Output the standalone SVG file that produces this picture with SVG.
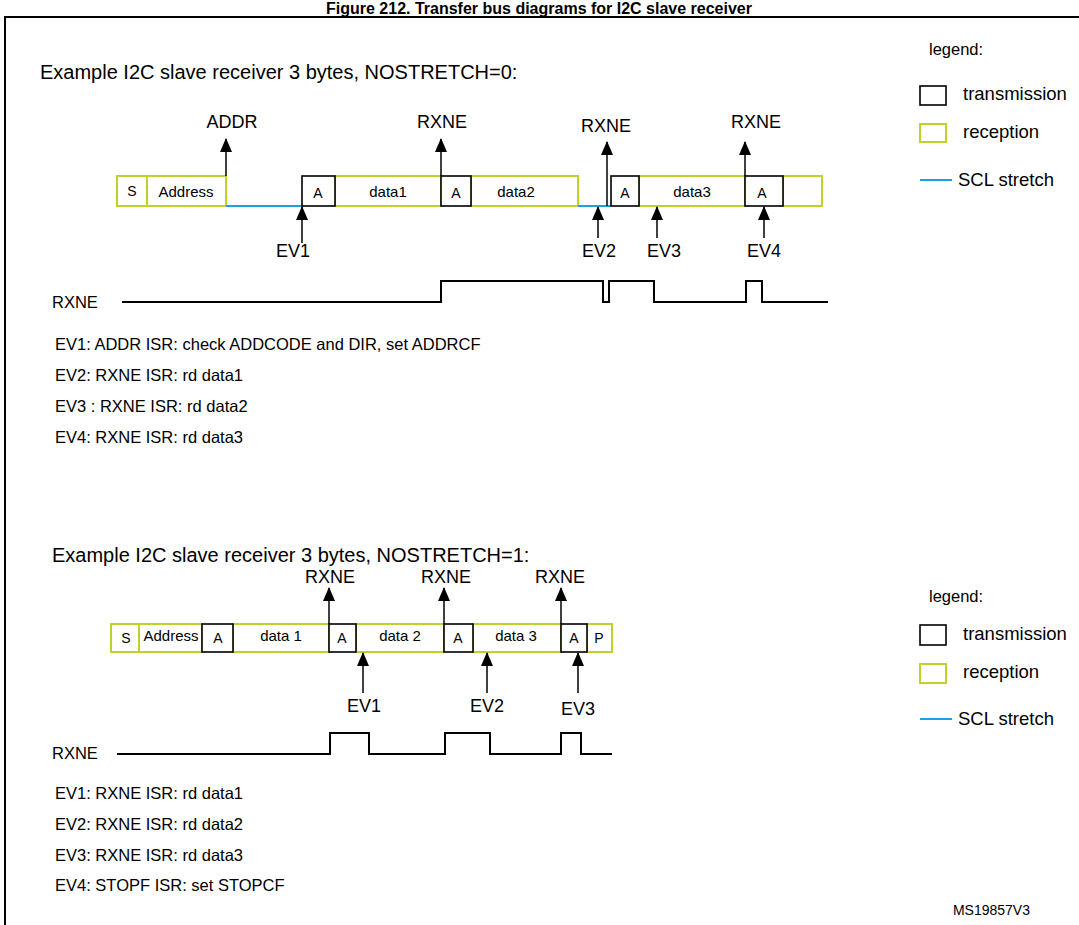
<svg xmlns="http://www.w3.org/2000/svg" width="1079" height="925" viewBox="0 0 1079 925">
<defs>
<marker id="ah" markerWidth="14" markerHeight="12" refX="13" refY="6" orient="auto" markerUnits="userSpaceOnUse" viewBox="0 0 14 12"><path d="M0,0 L14,6 L0,12 Z" fill="#000"/></marker>
<style>
text{font-family:"Liberation Sans",Arial,sans-serif;fill:#000}
.rx{fill:#fff;stroke:#bfd22a;stroke-width:2}
.tx{fill:#fff;stroke:#000;stroke-width:1.6}
.st{stroke:#1aa3e0;stroke-width:2;fill:none}
.ar{stroke:#000;stroke-width:1.5;fill:none}
.wv{stroke:#000;stroke-width:2;fill:none}
.s{font-size:14px}
.m{font-size:15px}
.e{font-size:16.5px}
.l{font-size:18px}
.g{font-size:18.5px}
.h{font-size:20px}
</style>
</defs>
<rect width="1079" height="925" fill="#fff"/>
<text x="539" y="14" text-anchor="middle" font-weight="bold" font-size="16">Figure 212. Transfer bus diagrams for I2C slave receiver</text>
<path d="M5,925 V17 H1079" fill="none" stroke="#000" stroke-width="2"/>

<g id="top">
<text class="h" x="40" y="79">Example I2C slave receiver 3 bytes, NOSTRETCH=0:</text>
<g id="legend1">
<text class="e" x="929" y="55">legend:</text>
<rect class="tx" x="920" y="86" width="26" height="19"/>
<text class="g" x="963" y="100">transmission</text>
<rect class="rx" x="920" y="124" width="26" height="18"/>
<text class="g" x="963" y="138">reception</text>
<line class="st" x1="920" y1="180" x2="952" y2="180"/>
<text class="g" x="958" y="186">SCL stretch</text>
</g>
<g id="frame1">
<rect class="rx" x="117" y="176" width="30" height="30"/><text class="s" x="132" y="196" text-anchor="middle">S</text>
<rect class="rx" x="147" y="176" width="79" height="30"/><text class="m" x="186" y="197" text-anchor="middle">Address</text>
<line class="st" x1="226" y1="206" x2="302" y2="206"/>
<rect class="rx" x="335" y="176" width="106" height="30"/><text class="m" x="388" y="197" text-anchor="middle">data1</text>
<rect class="rx" x="471" y="176" width="107" height="30"/><text class="m" x="516" y="197" text-anchor="middle">data2</text>
<line class="st" x1="578" y1="206" x2="611" y2="206"/>
<rect class="rx" x="639" y="176" width="106" height="30"/><text class="m" x="692" y="197" text-anchor="middle">data3</text>
<rect class="rx" x="783" y="176" width="39" height="30"/>
<rect class="tx" x="302" y="176" width="33" height="30"/><text class="s" x="318" y="198" text-anchor="middle">A</text>
<rect class="tx" x="441" y="176" width="30" height="30"/><text class="s" x="456" y="198" text-anchor="middle">A</text>
<rect class="tx" x="611" y="176" width="28" height="30"/><text class="s" x="625" y="198" text-anchor="middle">A</text>
<rect class="tx" x="745" y="176" width="38" height="30"/><text class="s" x="762" y="198" text-anchor="middle">A</text>
</g>
<g id="connectors1">
<line class="ar" x1="226" y1="176" x2="226" y2="139" marker-end="url(#ah)"/>
<line class="ar" x1="441" y1="176" x2="441" y2="139" marker-end="url(#ah)"/>
<line class="ar" x1="607" y1="206" x2="607" y2="142" marker-end="url(#ah)"/>
<line class="ar" x1="745" y1="176" x2="745" y2="142" marker-end="url(#ah)"/>
<line class="ar" x1="302" y1="243" x2="302" y2="207" marker-end="url(#ah)"/>
<line class="ar" x1="598" y1="238" x2="598" y2="207" marker-end="url(#ah)"/>
<line class="ar" x1="657" y1="238" x2="657" y2="207" marker-end="url(#ah)"/>
<line class="ar" x1="764" y1="238" x2="764" y2="207" marker-end="url(#ah)"/>
</g>
<text class="l" x="232" y="128" text-anchor="middle">ADDR</text>
<text class="l" x="442" y="128" text-anchor="middle">RXNE</text>
<text class="l" x="606" y="132" text-anchor="middle">RXNE</text>
<text class="l" x="756" y="128" text-anchor="middle">RXNE</text>
<text class="l" x="293" y="257" text-anchor="middle">EV1</text>
<text class="l" x="599" y="257" text-anchor="middle">EV2</text>
<text class="l" x="664" y="257" text-anchor="middle">EV3</text>
<text class="l" x="764" y="257" text-anchor="middle">EV4</text>
<text class="e" x="52" y="308">RXNE</text>
<path class="wv" d="M122,302 H441 V281 H603 V302 H609 V281 H654 V302 H746 V281 H762 V302 H828"/>
<text class="e" x="55" y="350">EV1: ADDR ISR: check ADDCODE and DIR, set ADDRCF</text>
<text class="e" x="55" y="381">EV2: RXNE ISR: rd data1</text>
<text class="e" x="55" y="412">EV3 : RXNE ISR: rd data2</text>
<text class="e" x="55" y="443">EV4: RXNE ISR: rd data3</text>
</g>

<g id="bottom">
<text class="h" x="52" y="562">Example I2C slave receiver 3 bytes, NOSTRETCH=1:</text>
<g id="legend2">
<text class="e" x="929" y="602">legend:</text>
<rect class="tx" x="920" y="625" width="26" height="20"/>
<text class="g" x="963" y="640">transmission</text>
<rect class="rx" x="920" y="664" width="26" height="19"/>
<text class="g" x="963" y="678">reception</text>
<line class="st" x1="920" y1="719" x2="952" y2="719"/>
<text class="g" x="958" y="725">SCL stretch</text>
</g>
<g id="frame2">
<rect class="rx" x="111" y="624" width="28" height="28"/><text class="s" x="126" y="643" text-anchor="middle">S</text>
<rect class="rx" x="139" y="624" width="63" height="28"/><text class="m" x="171" y="641" text-anchor="middle">Address</text>
<rect class="rx" x="233" y="624" width="96" height="28"/><text class="m" x="281" y="641" text-anchor="middle">data 1</text>
<rect class="rx" x="356" y="624" width="88" height="28"/><text class="m" x="400" y="641" text-anchor="middle">data 2</text>
<rect class="rx" x="473" y="624" width="88" height="28"/><text class="m" x="516" y="641" text-anchor="middle">data 3</text>
<rect class="rx" x="587" y="624" width="25" height="28"/><text class="s" x="599" y="643" text-anchor="middle">P</text>
<rect class="tx" x="202" y="624" width="31" height="28"/><text class="s" x="218" y="643" text-anchor="middle">A</text>
<rect class="tx" x="329" y="624" width="27" height="28"/><text class="s" x="342" y="643" text-anchor="middle">A</text>
<rect class="tx" x="444" y="624" width="29" height="28"/><text class="s" x="458" y="643" text-anchor="middle">A</text>
<rect class="tx" x="561" y="624" width="26" height="28"/><text class="s" x="574" y="643" text-anchor="middle">A</text>
</g>
<g id="connectors2">
<line class="ar" x1="329" y1="624" x2="329" y2="588" marker-end="url(#ah)"/>
<line class="ar" x1="444" y1="624" x2="444" y2="588" marker-end="url(#ah)"/>
<line class="ar" x1="561" y1="624" x2="561" y2="588" marker-end="url(#ah)"/>
<line class="ar" x1="363" y1="693" x2="363" y2="653" marker-end="url(#ah)"/>
<line class="ar" x1="487" y1="693" x2="487" y2="653" marker-end="url(#ah)"/>
<line class="ar" x1="578" y1="693" x2="578" y2="653" marker-end="url(#ah)"/>
</g>
<text class="l" x="330" y="583" text-anchor="middle">RXNE</text>
<text class="l" x="446" y="583" text-anchor="middle">RXNE</text>
<text class="l" x="560" y="583" text-anchor="middle">RXNE</text>
<text class="l" x="364" y="712" text-anchor="middle">EV1</text>
<text class="l" x="487" y="712" text-anchor="middle">EV2</text>
<text class="l" x="578" y="715" text-anchor="middle">EV3</text>
<text class="e" x="52" y="759">RXNE</text>
<path class="wv" d="M117,754 H330 V733 H369 V754 H445 V733 H490 V754 H561 V733 H581 V754 H612"/>
<text class="e" x="55" y="799">EV1: RXNE ISR: rd data1</text>
<text class="e" x="55" y="830">EV2: RXNE ISR: rd data2</text>
<text class="e" x="55" y="861">EV3: RXNE ISR: rd data3</text>
<text class="e" x="55" y="891">EV4: STOPF ISR: set STOPCF</text>
<text class="s" x="1030" y="915" text-anchor="end">MS19857V3</text>
</g>
</svg>
